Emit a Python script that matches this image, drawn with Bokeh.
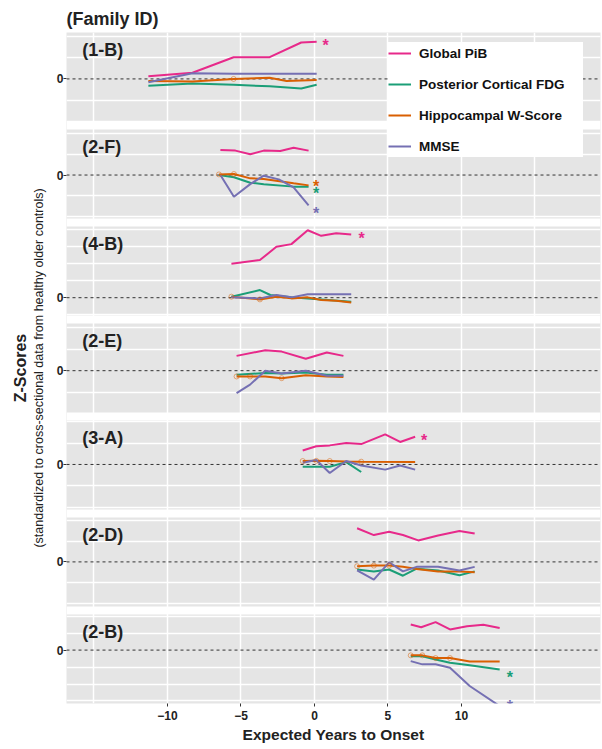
import math
from bokeh.plotting import figure
from bokeh.models import (Range1d, LinearAxis, FixedTicker, BoxAnnotation, Span, Label,
                          Legend, LegendItem, CustomJSTickFormatter)
from bokeh.core.properties import value
from bokeh.embed import file_html
from bokeh.resources import INLINE

# ---------------- data ----------------
FAMILIES = ["1-B", "2-F", "4-B", "2-E", "3-A", "2-D", "2-B"]
SERIES = ["Global PiB", "Posterior Cortical FDG", "Hippocampal W-Score", "MMSE"]
COLORS = ["#E7298A", "#1B9E77", "#D95F02", "#7570B3"]
X_TICKS = [-10, -5, 0, 5, 10]
X_GRID = [-15, -10, -5, 0, 5, 10, 15]

PIB = {
    "1-B": ([-11.3, -8.3, -5.5, -3.05, -0.9, 0.15], [0.13, 0.29, 1.02, 1.02, 1.71, 1.74]),
    "2-F": ([-6.4, -5.38, -4.37, -3.45, -2.33, -1.42, -0.4], [1.21, 1.18, 1.0, 1.18, 1.16, 1.32, 1.18]),
    "4-B": ([-5.65, -3.71, -2.59, -1.57, -0.46, 0.46, 1.48, 2.5], [2.0, 2.22, 3.0, 3.16, 3.98, 3.65, 3.8, 3.73]),
    "2-E": ([-5.3, -3.35, -2.23, -0.59, 0.84, 1.97], [0.69, 0.95, 0.89, 0.56, 0.85, 0.69]),
    "3-A": ([-0.8, 0.12, 1.04, 2.16, 3.18, 4.81, 5.83, 6.85], [0.65, 0.85, 0.89, 1.0, 0.95, 1.4, 1.05, 1.29]),
    "2-D": ([2.9, 4.04, 5.08, 6.02, 7.06, 8.41, 9.86, 10.9], [1.63, 1.3, 1.46, 1.3, 1.04, 1.28, 1.5, 1.37]),
    "2-B": ([6.55, 7.26, 8.24, 9.22, 10.38, 11.49, 12.6], [1.51, 1.35, 1.65, 1.22, 1.41, 1.49, 1.31]),
}
FDG = {
    "1-B": ([-11.3, -8.3, -5.5, -3.05, -0.9, 0.15], [-0.32, -0.21, -0.27, -0.35, -0.45, -0.27]),
    "2-F": ([-6.5, -5.48, -4.37, -3.45, -1.42, -0.4], [0.0, -0.11, -0.37, -0.44, -0.56, -0.56]),
    "4-B": ([-5.65, -3.71, -3.0, -1.57, -0.46, 0.46, 2.5], [0.06, 0.45, 0.16, 0.02, -0.04, -0.1, -0.24]),
    "2-E": ([-5.3, -3.35, -2.23, -0.59, 0.84, 1.97], [-0.19, -0.11, -0.13, -0.08, -0.19, -0.19]),
    "3-A": ([-0.8, 0.12, 1.04, 2.16, 3.18], [-0.11, -0.11, -0.11, 0.11, -0.35]),
    "2-D": ([2.9, 4.04, 5.08, 6.02, 6.95, 8.41, 9.86, 10.9], [-0.37, -0.46, -0.37, -0.67, -0.33, -0.42, -0.65, -0.46]),
    "2-B": ([6.55, 7.34, 8.24, 9.22, 10.56, 12.6], [-0.37, -0.37, -0.55, -0.75, -0.9, -1.14]),
}
HIPPO = {
    "1-B": ([-11.3, -8.3, -5.5, -3.05, -1.9, 0.15], [-0.1, -0.12, 0.0, 0.05, -0.1, -0.05]),
    "2-F": ([-6.5, -5.48, -4.37, -3.45, -1.42, -0.4], [0.03, 0.05, -0.16, -0.19, -0.4, -0.5]),
    "4-B": ([-5.65, -3.71, -2.59, -1.57, -0.46, 0.46, 1.48, 2.5], [0.06, -0.1, 0.06, -0.04, 0.02, -0.14, -0.18, -0.29]),
    "2-E": ([-5.3, -4.38, -3.35, -2.23, -0.59, 0.84, 1.97], [-0.27, -0.27, -0.27, -0.35, -0.21, -0.27, -0.29]),
    "3-A": ([-0.8, 0.12, 1.04, 2.16, 3.18, 6.85], [0.16, 0.17, 0.16, 0.14, 0.13, 0.11]),
    "2-D": ([2.9, 4.04, 5.08, 6.02, 6.95, 8.41, 9.86, 10.9], [-0.21, -0.18, -0.18, -0.24, -0.34, -0.46, -0.46, -0.5]),
    "2-B": ([6.55, 7.34, 8.24, 9.22, 10.56, 12.6], [-0.31, -0.31, -0.47, -0.47, -0.67, -0.67]),
}
MMSE = {
    "1-B": ([-11.3, -8.3, -5.5, -3.05, -0.9, 0.15], [-0.16, 0.27, 0.24, 0.24, 0.24, 0.24]),
    "2-F": ([-6.4, -5.48, -4.37, -3.45, -2.43, -1.42, -0.4], [0.0, -1.05, -0.44, -0.03, -0.21, -0.6, -1.47]),
    "4-B": ([-5.65, -3.71, -2.59, -1.57, -0.46, 0.46, 1.48, 2.5], [0.02, -0.04, 0.16, 0.02, 0.2, 0.2, 0.2, 0.2]),
    "2-E": ([-5.3, -4.38, -3.35, -2.23, -0.59, 0.84, 1.97], [-1.05, -0.65, 0.0, -0.13, 0.0, -0.24, -0.24]),
    "3-A": ([-0.8, 0.12, 1.04, 2.16, 3.18, 4.81, 5.83, 6.85], [0.08, 0.21, -0.4, 0.16, -0.05, -0.24, -0.05, -0.24]),
    "2-D": ([2.9, 4.04, 5.08, 6.02, 6.95, 8.41, 9.86, 10.9], [-0.41, -0.86, -0.02, -0.46, -0.24, -0.24, -0.42, -0.24]),
    "2-B": ([6.55, 7.34, 8.24, 9.22, 10.56, 12.6], [-0.65, -0.84, -0.84, -1.04, -2.12, -3.3]),
}
# indices of hippocampal points drawn with a small open marker
HIPPO_MARKED = {"1-B": [2], "2-F": [0, 1], "4-B": [0, 1], "2-E": [0, 1, 3],
                "3-A": [0, 1, 2, 4], "2-D": [0, 1, 2], "2-B": [0, 1, 2, 3]}
# significance asterisks: family, series index, x, z
STAR_FAM = ["1-B", "2-F", "2-F", "2-F", "4-B", "3-A", "2-B", "2-B"]
STAR_SER = [0, 2, 1, 3, 0, 0, 1, 3]
STAR_X = [0.75, 0.12, 0.12, 0.12, 3.2, 7.46, 13.3, 13.3]
STAR_Z = [1.74, -0.37, -0.69, -1.66, 3.75, 1.29, -1.39, -3.1]

# per-panel z-score axis limits (free scales)
Z_LIMITS = {"1-B": (-2.0, 2.18), "2-F": (-2.1, 2.2), "4-B": (-1.05, 4.2), "2-E": (-1.95, 2.2),
            "3-A": (-2.1, 2.05), "2-D": (-2.16, 2.15), "2-B": (-3.15, 2.1)}

# ---------------- layout ----------------
FONT = "Liberation Sans"
TXT = "#222222"
PANEL_BG = "#E5E5E5"
GRID_W = 1.5
W, H = 602, 749
B_LEFT, B_RIGHT, B_TOP, B_BOTTOM = 66, 2, 32, 46
FRAME_H = H - B_TOP - B_BOTTOM
PANEL_H = 89
PITCH = (FRAME_H - PANEL_H) / (len(FAMILIES) - 1)

p = figure(width=W, height=H, x_range=Range1d(-16.87, 19.46), y_range=Range1d(-FRAME_H, 0),
           output_backend="svg", toolbar_location=None,
           min_border_left=B_LEFT, min_border_right=B_RIGHT, min_border_top=B_TOP,
           min_border_bottom=B_BOTTOM,
           background_fill_color=PANEL_BG, border_fill_color="white", outline_line_color=None,
           title="(Family ID)")
p.title.text_font = FONT
p.title.text_font_size = "18px"
p.title.text_font_style = "bold"
p.title.text_color = TXT
p.title.align = "left"
p.title.standoff = 8

p.xgrid.ticker = FixedTicker(ticks=X_GRID)
p.xgrid.grid_line_color = "white"
p.xgrid.grid_line_width = GRID_W
p.ygrid.visible = False

# x axis
p.xaxis.ticker = FixedTicker(ticks=X_TICKS)
p.xaxis.axis_label = "Expected Years to Onset"
p.xaxis.axis_line_color = None
p.xaxis.major_tick_out = 3
p.xaxis.major_tick_in = 0
p.xaxis.minor_tick_out = 0
p.xaxis.major_tick_line_color = "#333333"
p.xaxis.major_label_standoff = 4
p.xaxis.major_label_text_font = FONT
p.xaxis.major_label_text_font_size = "12px"
p.xaxis.major_label_text_font_style = "bold"
p.xaxis.major_label_text_color = TXT
p.xaxis.axis_label_standoff = 3
p.xaxis.axis_label_text_font = FONT
p.xaxis.axis_label_text_font_size = "15.5px"
p.xaxis.axis_label_text_font_style = "bold"
p.xaxis.axis_label_text_color = TXT

zero_ticks = []
legend_items = []
for i, fam in enumerate(FAMILIES):
    a, b = Z_LIMITS[fam]
    top = i * PITCH
    bottom = top + PANEL_H
    s = (b - a) / PANEL_H  # z units per pixel
    name = "p%d" % i
    p.extra_y_ranges[name] = Range1d(a - (FRAME_H - bottom) * s, b + top * s)
    zero_ticks.append(-(top + b / s))

    # horizontal grid lines of this panel (the zero line is drawn dashed)
    grid_z = [g for g in range(math.ceil(a), math.floor(b) + 1) if g != 0]
    p.hspan(y=grid_z, y_range_name=name, line_color="white", line_width=GRID_W, level="glyph")
    # white gap below panel
    if i < len(FAMILIES) - 1:
        p.add_layout(BoxAnnotation(top=-bottom, bottom=-(top + PITCH), fill_color="white",
                                   fill_alpha=1, line_color=None, level="underlay"))
    p.add_layout(Span(location=0, dimension="width", y_range_name=name, line_color="#333333",
                      line_dash="3 3", line_width=1, level="underlay"))

    rends = []
    for k, data in enumerate([PIB, FDG, HIPPO, MMSE]):
        xs, zs = data[fam]
        r = p.line(xs, zs, y_range_name=name, line_color=COLORS[k], line_width=2)
        rends.append(r)
    if i == 0:
        legend_items = [LegendItem(label=SERIES[k], renderers=[rends[k]]) for k in range(4)]

    hx, hz = HIPPO[fam]
    idx = HIPPO_MARKED[fam]
    p.scatter([hx[j] for j in idx], [hz[j] for j in idx], y_range_name=name, marker="circle",
              size=5, fill_color=None, line_color=COLORS[2], line_alpha=0.5, line_width=1)

    sel = [j for j in range(len(STAR_FAM)) if STAR_FAM[j] == fam]
    if sel:
        p.text([STAR_X[j] for j in sel], [STAR_Z[j] for j in sel], text=["*"] * len(sel),
               text_color=[COLORS[STAR_SER[j]] for j in sel], y_range_name=name,
               text_font=value(FONT), text_font_size="16px", text_font_style="bold",
               text_align="center", text_baseline="middle", y_offset=4)

    p.add_layout(Label(x=-15.8, y=b - 17 * s, y_range_name=name, text="(%s)" % fam,
                       text_font=FONT, text_font_size="18px", text_font_style="bold",
                       text_color=TXT, text_align="left", text_baseline="middle"))

# y axis: zero of each panel
p.yaxis.ticker = FixedTicker(ticks=zero_ticks)
p.yaxis.formatter = CustomJSTickFormatter(code="return '0'")
p.yaxis.axis_line_color = None
p.yaxis.major_tick_out = 3
p.yaxis.major_tick_in = 0
p.yaxis.minor_tick_out = 0
p.yaxis.major_tick_line_color = "#333333"
p.yaxis.major_label_standoff = 0
p.yaxis.major_label_text_font = FONT
p.yaxis.major_label_text_font_size = "12px"
p.yaxis.major_label_text_font_style = "bold"
p.yaxis.major_label_text_color = TXT
p.yaxis.axis_label = "(standardized to cross-sectional data from healthy older controls)"
p.yaxis.axis_label_standoff = 8
p.yaxis.axis_label_text_font = FONT
p.yaxis.axis_label_text_font_size = "12.5px"
p.yaxis.axis_label_text_font_style = "normal"
p.yaxis.axis_label_text_color = TXT

outer = LinearAxis(ticker=FixedTicker(ticks=[]), axis_label="Z-Scores", axis_line_color=None,
                   major_tick_out=0, major_tick_in=0, minor_tick_out=0, minor_tick_in=0,
                   major_label_standoff=0, axis_label_standoff=0, axis_label_text_font=FONT,
                   axis_label_text_font_size="16px", axis_label_text_font_style="bold",
                   axis_label_text_color=TXT)
p.add_layout(outer, "left")

legend = Legend(items=legend_items, location=(322, 546), background_fill_color="white",
                background_fill_alpha=1, border_line_color=None, padding=5, spacing=9,
                label_height=22, glyph_height=22, glyph_width=23, label_standoff=8,
                label_width=164, label_text_font=FONT, label_text_font_size="13.5px",
                label_text_font_style="bold", label_text_color="#111111", margin=0)
p.add_layout(legend)

open("out.html", "w").write(file_html(p, INLINE))
